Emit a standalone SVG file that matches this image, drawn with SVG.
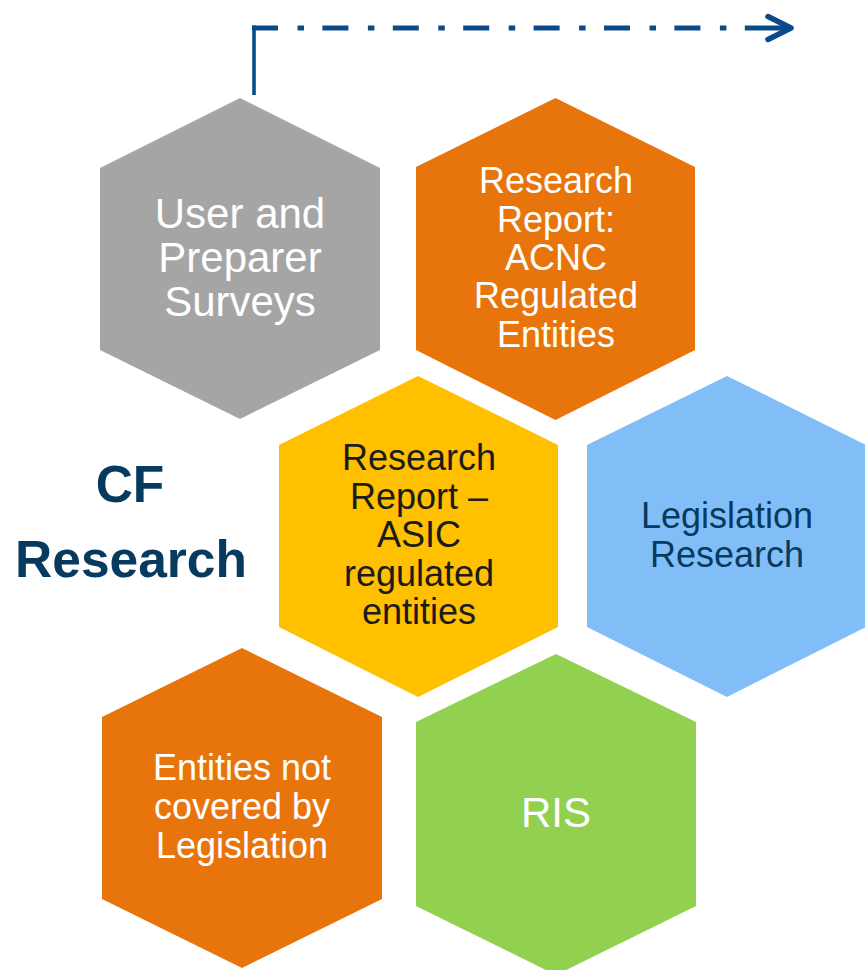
<svg xmlns="http://www.w3.org/2000/svg" width="865" height="970" viewBox="0 0 865 970">
  <style>
    .lbl { font-family: "Liberation Sans", Arial, sans-serif; text-anchor: middle; }
    .light { fill: #ffffff; }
    .navy { fill: #073a5f; }
    .dark { fill: #1b1b1b; }
    .s36 { font-size: 36px; }
    .s42 { font-size: 42px; }
    .title { font-family: "Liberation Sans", Arial, sans-serif; font-weight: bold; font-size: 51.5px; fill: #073a5f; text-anchor: middle; }
    .flow { fill: none; stroke: #0a4a89; }
  </style>
  <rect width="865" height="970" fill="#ffffff"/>

  <!-- flow connector -->
  <g id="connectors">
    <path class="flow" d="M254,95 V25.5" stroke-width="3.6"/>
    <path class="flow" d="M252,28 H747" stroke-width="5" stroke-dasharray="26 19.5 6.5 18.4"/>
    <path class="flow" d="M747,28 H789" stroke-width="5"/>
    <path class="flow" d="M768,16.5 L791,28 L768,39.5" stroke-width="5.5" stroke-linecap="round" stroke-linejoin="round"/>
  </g>

  <g id="title">
    <text class="title" x="130" y="502">CF</text>
    <text class="title" x="131" y="577">Research</text>
  </g>

  <g id="surveys">
    <polygon points="240,98 380,168 380,350 240,419 100,350 100,168" fill="#a5a5a5"/>
    <text class="lbl light s42" x="240" y="228">User and</text>
    <text class="lbl light s42" x="240" y="272">Preparer</text>
    <text class="lbl light s42" x="240" y="316">Surveys</text>
  </g>

  <g id="acnc">
    <polygon points="555.5,98 695,167 695,350 555.5,420 416,350 416,167" fill="#e8740c"/>
    <text class="lbl light s36" x="556" y="193">Research</text>
    <text class="lbl light s36" x="556" y="232">Report:</text>
    <text class="lbl light s36" x="556" y="270">ACNC</text>
    <text class="lbl light s36" x="556" y="308">Regulated</text>
    <text class="lbl light s36" x="556" y="347">Entities</text>
  </g>

  <g id="asic">
    <polygon points="418,376 558,445 558,627 418,697 279,627 279,445" fill="#ffc000"/>
    <text class="lbl dark s36" x="419" y="470">Research</text>
    <text class="lbl dark s36" x="419" y="508.5">Report –</text>
    <text class="lbl dark s36" x="419" y="547">ASIC</text>
    <text class="lbl dark s36" x="419" y="585.5">regulated</text>
    <text class="lbl dark s36" x="419" y="624">entities</text>
  </g>

  <g id="legislation">
    <polygon points="727,376 866,445 866,627 727,697 587,627 587,445" fill="#81bef7"/>
    <text class="lbl navy s36" x="727" y="528">Legislation</text>
    <text class="lbl navy s36" x="727" y="567">Research</text>
  </g>

  <g id="not-covered">
    <polygon points="242,648 382,717 382,899 242,968 102,899 102,717" fill="#e8740c"/>
    <text class="lbl light s36" x="242" y="780">Entities not</text>
    <text class="lbl light s36" x="242" y="819">covered by</text>
    <text class="lbl light s36" x="242" y="858">Legislation</text>
  </g>

  <g id="ris">
    <polygon points="556,654 696,722 696,906 556,975 416,906 416,722" fill="#92d050"/>
    <text class="lbl light s42" x="556" y="827">RIS</text>
  </g>
</svg>
